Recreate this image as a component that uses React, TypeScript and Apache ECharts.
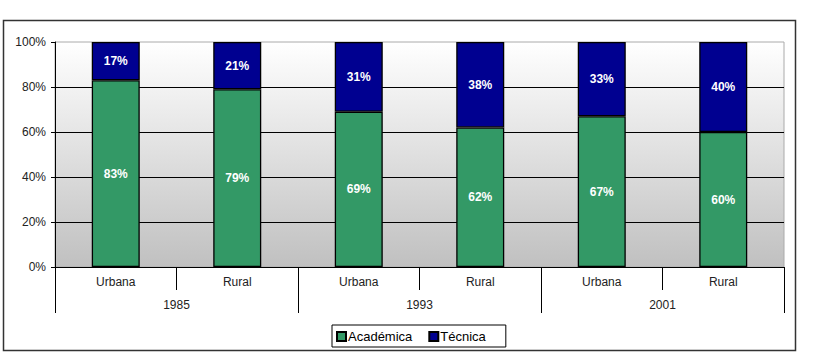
import React, { useEffect, useRef } from "react";
import * as echarts from "echarts";

const groups = ["Urbana", "Rural", "Urbana", "Rural", "Urbana", "Rural"];
const years = ["1985", "1993", "2001"];
const academica = [83, 79, 69, 62, 67, 60];
const tecnica = [17, 21, 31, 38, 33, 40];
const yTicks = [0, 20, 40, 60, 80, 100];

export default function App() {
  const ref = useRef<HTMLDivElement>(null);
  useEffect(() => {
    if (!ref.current) return;
    const chart = echarts.init(ref.current, null, { renderer: "svg" });
    const font = "'Liberation Sans', Arial, sans-serif";
    const label = {
      show: true,
      position: "inside",
      color: "#ffffff",
      fontWeight: "bold",
      fontSize: 12,
      fontFamily: font,
      formatter: (p: any) => p.value + "%",
    };
    chart.setOption({
      animation: false,
      textStyle: { fontFamily: font },
      graphic: [
        {
          type: "rect",
          shape: { x: 3.5, y: 20.5, width: 792, height: 330 },
          style: { fill: "none", stroke: "#333", lineWidth: 1.5 },
          z: -10,
        },
      ],
      grid: {
        left: 55,
        top: 42,
        right: 36,
        bottom: 89,
        show: true,
        borderColor: "#aaa",
        borderWidth: 1,
        backgroundColor: new echarts.graphic.LinearGradient(0, 0, 0, 1, [
          { offset: 0, color: "#ffffff" },
          { offset: 1, color: "#c0c0c0" },
        ]),
      },
      legend: {
        left: 332,
        top: 325,
        itemWidth: 9,
        itemHeight: 9,
        itemGap: 16,
        icon: "rect",
        borderColor: "#000",
        borderWidth: 1,
        backgroundColor: "#fff",
        padding: [5, 20, 4, 4],
        textStyle: { fontSize: 13, color: "#000", fontFamily: font, padding: [0, 0, 0, -3] },
        data: ["Académica", "Técnica"],
      },
      xAxis: [
        {
          type: "category",
          data: groups,
          position: "bottom",
          offset: 0,
          axisLine: { show: true, lineStyle: { color: "#000", width: 1 } },
          axisTick: { show: true, length: 23, lineStyle: { color: "#000" } },
          axisLabel: { color: "#222", fontSize: 12, margin: 9 },
        },
        {
          type: "category",
          data: years,
          position: "bottom",
          offset: 0,
          axisLine: { show: false },
          axisTick: { show: true, length: 46, lineStyle: { color: "#000" } },
          axisLabel: { color: "#222", fontSize: 12, margin: 32 },
        },
      ],
      yAxis: {
        type: "value",
        min: yTicks[0],
        max: yTicks[yTicks.length - 1],
        interval: 20,
        axisLine: { show: true, lineStyle: { color: "#000" } },
        axisTick: { show: true, length: 4, lineStyle: { color: "#000" } },
        axisLabel: { color: "#222", fontSize: 12, margin: 9, formatter: "{value}%" },
        splitLine: { show: true, showMaxLine: false, lineStyle: { color: "#000", width: 1 } },
      },
      series: [
        {
          name: "Académica",
          type: "bar",
          stack: "total",
          xAxisIndex: 0,
          barWidth: 48,
          data: academica,
          itemStyle: { color: "#339966", borderColor: "#000", borderWidth: 1.3 },
          label,
        },
        {
          name: "Técnica",
          type: "bar",
          stack: "total",
          xAxisIndex: 0,
          barWidth: 48,
          data: tecnica,
          itemStyle: { color: "#000090", borderColor: "#000", borderWidth: 1.3 },
          label,
        },
      ],
    });
    return () => chart.dispose();
  }, []);
  return (
    <div
      ref={ref}
      style={{ position: "fixed", left: 0, top: 0, width: 820, height: 356, background: "#fff" }}
    />
  );
}
